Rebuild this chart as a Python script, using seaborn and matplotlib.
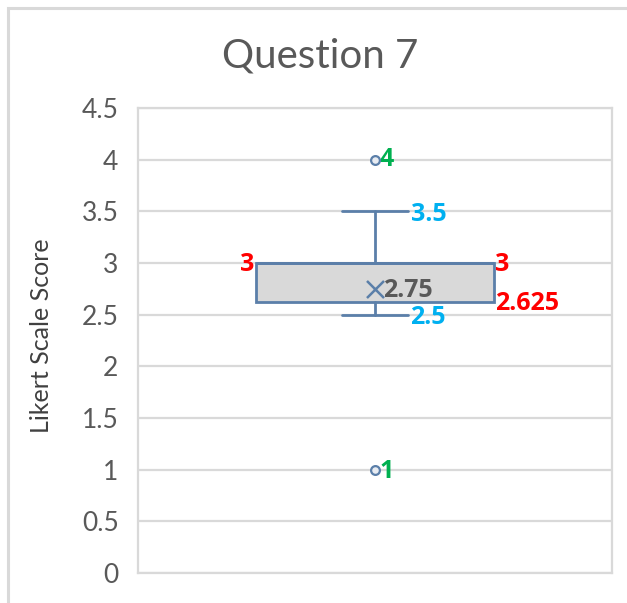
import matplotlib
matplotlib.use("Agg")
import matplotlib.pyplot as plt
from matplotlib.patches import Rectangle
import seaborn as sns
import pandas as pd

# Summary statistics for the Likert responses to question 7
question = ["Question 7"]
whisker_low = [2.5]
q1 = [2.625]
median = [3.0]
q3 = [3.0]
whisker_high = [3.5]
mean = [2.75]
outliers = [1.0, 4.0]
y_ticks = [0, 0.5, 1, 1.5, 2, 2.5, 3, 3.5, 4, 4.5]
y_tick_labels = ["0", "0.5", "1", "1.5", "2", "2.5", "3", "3.5", "4", "4.5"]

sns.set_theme(style="white")
plt.rcParams["font.family"] = ["Lato", "DejaVu Sans"]

BOX_EDGE = "#5b7fa9"
BOX_FILL = "#d9d9d9"
GRID = "#d9d9d9"
TEXT = "#595959"
RED = "#ff0000"
BLUE = "#00b0f0"
GREEN = "#00b050"

fig = plt.figure(figsize=(6.27, 6.03), dpi=100)
ax = fig.add_axes([138 / 627, 1 - 573 / 603, 474 / 627, 465 / 603])

stats = [{
    "label": question[0],
    "whislo": whisker_low[0],
    "q1": q1[0],
    "med": median[0],
    "q3": q3[0],
    "whishi": whisker_high[0],
    "mean": mean[0],
    "fliers": [],
}]
ax.bxp(
    stats, positions=[0], widths=0.504, capwidths=0.141,
    showmeans=False, showfliers=False, patch_artist=True,
    boxprops=dict(facecolor=BOX_FILL, edgecolor=BOX_EDGE, linewidth=2),
    whiskerprops=dict(color=BOX_EDGE, linewidth=2),
    capprops=dict(color=BOX_EDGE, linewidth=2),
    medianprops=dict(color=BOX_EDGE, linewidth=2),
    zorder=3,
)

# Outlying responses and the mean marker
out_df = pd.DataFrame({"x": [0] * len(outliers), "y": outliers})
sns.scatterplot(data=out_df, x="x", y="y", ax=ax, marker="o", s=40,
                facecolor="#e8ecf2", edgecolor=BOX_EDGE, linewidth=1.6, zorder=4)
mean_df = pd.DataFrame({"x": [0], "y": mean})
sns.scatterplot(data=mean_df, x="x", y="y", ax=ax, marker="x", s=150,
                color=BOX_EDGE, linewidth=1.8, zorder=4)

ax.set_xlim(-0.5, 0.5)
ax.set_ylim(0, 4.5)
ax.set_yticks(y_ticks)
ax.set_yticklabels(y_tick_labels)
ax.set_xticks([])
ax.set_xlabel("")
ax.tick_params(axis="y", length=0, pad=14, labelsize=19, labelcolor=TEXT)
ax.grid(axis="y", color=GRID, linewidth=1.6, zorder=0)
ax.set_axisbelow(True)
for side in ["left", "right", "top", "bottom"]:
    ax.spines[side].set_visible(True)
    ax.spines[side].set_color(GRID)
    ax.spines[side].set_linewidth(1.6)

ax.set_ylabel("Likert Scale Score", fontsize=18, color="#404040")
ax.yaxis.set_label_coords(-0.179, 0.51)

fig.text(320 / 627, 1 - 56 / 603, "Question 7", ha="center", va="center",
         fontsize=29, color=TEXT)

# Value labels
lab = dict(fontsize=18, fontweight="bold", family=["Open Sans", "DejaVu Sans"],
           va="center", textcoords="offset points")
half_box = 0.252
half_cap = 0.0705
ax.annotate(f"{outliers[1]:g}", (0, outliers[1]), xytext=(3.5, 0), color=GREEN, ha="left", **lab)
ax.annotate(f"{outliers[0]:g}", (0, outliers[0]), xytext=(3.5, -1), color=GREEN, ha="left", **lab)
ax.annotate(f"{whisker_high[0]:g}", (half_cap, whisker_high[0]), xytext=(1.5, -2), color=BLUE, ha="left", **lab)
ax.annotate(f"{whisker_low[0]:g}", (half_cap, whisker_low[0]), xytext=(1.5, -2), color=BLUE, ha="left", **lab)
ax.annotate(f"{median[0]:g}", (-half_box, median[0]), xytext=(-0.5, -1), color=RED, ha="right", **lab)
ax.annotate(f"{q3[0]:g}", (half_box, q3[0]), xytext=(0.5, -1), color=RED, ha="left", **lab)
ax.annotate(f"{q1[0]:g}", (half_box, q1[0]), xytext=(0.5, -1), color=RED, ha="left", **lab)
ax.annotate(f"{mean[0]:g}", (0, mean[0]), xytext=(6, -1), color=TEXT, ha="left", **lab)

# Chart area border
fig.patches.append(Rectangle((8 / 627, -0.05), 1.1, 1 - 8 / 603 + 0.05,
                             transform=fig.transFigure, fill=False,
                             edgecolor=GRID, linewidth=2.2))

fig.savefig("out.png", dpi=100)
